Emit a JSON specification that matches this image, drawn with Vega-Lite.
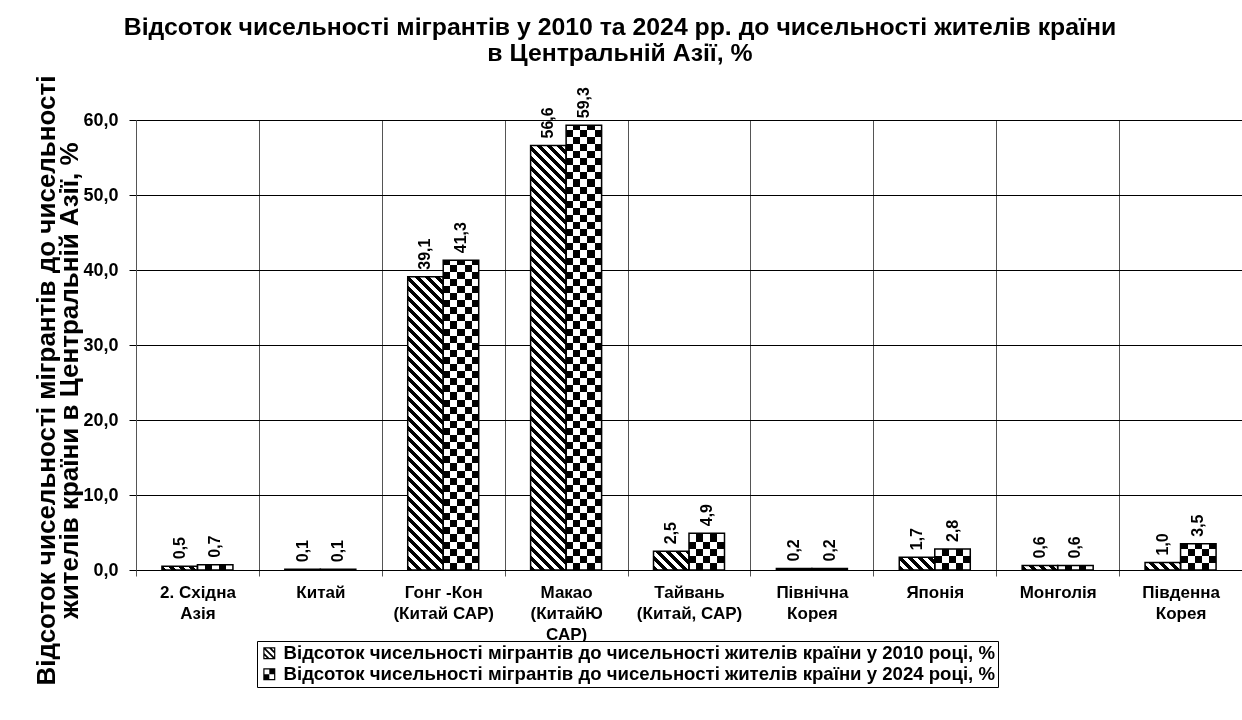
{
"$schema":"https://vega.github.io/schema/vega-lite/v6.json",
"width":1106,"height":450,
"autosize":"none",
"padding":{"left":136,"top":120,"right":0,"bottom":150},
"background":"white",
"config":{"view":{"stroke":null},"font":"Liberation Sans",
"locale":{"number":{"decimal":",","thousands":" ","grouping":[3],"currency":["",""]}}},
"title":{"text":["Відсоток чисельності мігрантів у 2010 та 2024 рр.  до чисельності жителів країни","в Центральній Азії, %"],"font":"Liberation Sans","fontSize":24.8,"fontWeight":"bold","color":"black","anchor":"middle","frame":"group","dx":-69,"dy":-5,"lineHeight":26},
"data":{"values":[
{"cat":"2. Східна|Азія","series":"2010","value":0.5},
{"cat":"2. Східна|Азія","series":"2024","value":0.7},
{"cat":"Китай","series":"2010","value":0.1},
{"cat":"Китай","series":"2024","value":0.1},
{"cat":"Гонг -Кон|(Китай САР)","series":"2010","value":39.1},
{"cat":"Гонг -Кон|(Китай САР)","series":"2024","value":41.3},
{"cat":"Макао|(КитайЮ|САР)","series":"2010","value":56.6},
{"cat":"Макао|(КитайЮ|САР)","series":"2024","value":59.3},
{"cat":"Тайвань|(Китай, САР)","series":"2010","value":2.5},
{"cat":"Тайвань|(Китай, САР)","series":"2024","value":4.9},
{"cat":"Північна|Корея","series":"2010","value":0.2},
{"cat":"Північна|Корея","series":"2024","value":0.2},
{"cat":"Японія","series":"2010","value":1.7},
{"cat":"Японія","series":"2024","value":2.8},
{"cat":"Монголія","series":"2010","value":0.6},
{"cat":"Монголія","series":"2024","value":0.6},
{"cat":"Південна|Корея","series":"2010","value":1.0},
{"cat":"Південна|Корея","series":"2024","value":3.5}
]},
"encoding":{
"x":{"field":"cat","type":"nominal","sort":null,"scale":{"paddingInner":0,"paddingOuter":0},
"axis":{"title":null,"tickBand":"extent","labelAngle":0,"labelExpr":"isString(datum.value) ? split(datum.value, '|') : ''","labelFont":"Liberation Sans","labelFontSize":17,"labelFontWeight":"bold","labelColor":"black","labelLineHeight":21,"labelBaseline":"top","labelPadding":8,"labelLimit":300,"tickSize":6,"tickColor":"#555","domainColor":"#000","grid":true,"gridColor":"#555","gridWidth":1}},
"xOffset":{"field":"series","type":"nominal","scale":{"paddingInner":0,"paddingOuter":0.73085}}
},
"layer":[
{"mark":{"type":"bar","fill":"#010101"},
"encoding":{
"y":{"field":"value","type":"quantitative","scale":{"domain":[0,60],"nice":false},
"axis":{"title":["Відсоток чисельності мігрантів до чисельності","жителів країни в Центральній Азії, %"],"titleFont":"Liberation Sans","titleFontSize":26,"titleFontWeight":"bold","titleColor":"black","titleAngle":270,"titleAlign":"center","titleBaseline":"alphabetic","titleX":-82,"titleY":260,"titleLineHeight":23,
"values":[0,10,20,30,40,50,60],"format":".1f","labelFont":"Liberation Sans","labelFontSize":18,"labelFontWeight":"bold","labelColor":"black","labelPadding":11,"tickSize":7,"tickColor":"#000","domainColor":"#555","gridColor":"#000","gridWidth":1}}}},
{"mark":{"type":"bar","blend":"color-dodge","strokeWidth":0},
"encoding":{"y":{"datum":60,"type":"quantitative"},"y2":{"datum":0},
"fill":{"condition":{"test":"datum.series == '2010'","value":
{"gradient":"linear","x1":0,"y1":1,"x2":0.0871124,"y2":-0.104242,"stops":[
{"offset":0,"color":"#000"},
{"offset":0.01,"color":"#000"},{"offset":0.01,"color":"#fff"},
{"offset":0.02,"color":"#fff"},{"offset":0.02,"color":"#000"},
{"offset":0.03,"color":"#000"},{"offset":0.03,"color":"#fff"},
{"offset":0.04,"color":"#fff"},{"offset":0.04,"color":"#000"},
{"offset":0.05,"color":"#000"},{"offset":0.05,"color":"#fff"},
{"offset":0.06,"color":"#fff"},{"offset":0.06,"color":"#000"},
{"offset":0.07,"color":"#000"},{"offset":0.07,"color":"#fff"},
{"offset":0.08,"color":"#fff"},{"offset":0.08,"color":"#000"},
{"offset":0.09,"color":"#000"},{"offset":0.09,"color":"#fff"},
{"offset":0.1,"color":"#fff"},{"offset":0.1,"color":"#000"},
{"offset":0.11,"color":"#000"},{"offset":0.11,"color":"#fff"},
{"offset":0.12,"color":"#fff"},{"offset":0.12,"color":"#000"},
{"offset":0.13,"color":"#000"},{"offset":0.13,"color":"#fff"},
{"offset":0.14,"color":"#fff"},{"offset":0.14,"color":"#000"},
{"offset":0.15,"color":"#000"},{"offset":0.15,"color":"#fff"},
{"offset":0.16,"color":"#fff"},{"offset":0.16,"color":"#000"},
{"offset":0.17,"color":"#000"},{"offset":0.17,"color":"#fff"},
{"offset":0.18,"color":"#fff"},{"offset":0.18,"color":"#000"},
{"offset":0.19,"color":"#000"},{"offset":0.19,"color":"#fff"},
{"offset":0.2,"color":"#fff"},{"offset":0.2,"color":"#000"},
{"offset":0.21,"color":"#000"},{"offset":0.21,"color":"#fff"},
{"offset":0.22,"color":"#fff"},{"offset":0.22,"color":"#000"},
{"offset":0.23,"color":"#000"},{"offset":0.23,"color":"#fff"},
{"offset":0.24,"color":"#fff"},{"offset":0.24,"color":"#000"},
{"offset":0.25,"color":"#000"},{"offset":0.25,"color":"#fff"},
{"offset":0.26,"color":"#fff"},{"offset":0.26,"color":"#000"},
{"offset":0.27,"color":"#000"},{"offset":0.27,"color":"#fff"},
{"offset":0.28,"color":"#fff"},{"offset":0.28,"color":"#000"},
{"offset":0.29,"color":"#000"},{"offset":0.29,"color":"#fff"},
{"offset":0.3,"color":"#fff"},{"offset":0.3,"color":"#000"},
{"offset":0.31,"color":"#000"},{"offset":0.31,"color":"#fff"},
{"offset":0.32,"color":"#fff"},{"offset":0.32,"color":"#000"},
{"offset":0.33,"color":"#000"},{"offset":0.33,"color":"#fff"},
{"offset":0.34,"color":"#fff"},{"offset":0.34,"color":"#000"},
{"offset":0.35,"color":"#000"},{"offset":0.35,"color":"#fff"},
{"offset":0.36,"color":"#fff"},{"offset":0.36,"color":"#000"},
{"offset":0.37,"color":"#000"},{"offset":0.37,"color":"#fff"},
{"offset":0.38,"color":"#fff"},{"offset":0.38,"color":"#000"},
{"offset":0.39,"color":"#000"},{"offset":0.39,"color":"#fff"},
{"offset":0.4,"color":"#fff"},{"offset":0.4,"color":"#000"},
{"offset":0.41,"color":"#000"},{"offset":0.41,"color":"#fff"},
{"offset":0.42,"color":"#fff"},{"offset":0.42,"color":"#000"},
{"offset":0.43,"color":"#000"},{"offset":0.43,"color":"#fff"},
{"offset":0.44,"color":"#fff"},{"offset":0.44,"color":"#000"},
{"offset":0.45,"color":"#000"},{"offset":0.45,"color":"#fff"},
{"offset":0.46,"color":"#fff"},{"offset":0.46,"color":"#000"},
{"offset":0.47,"color":"#000"},{"offset":0.47,"color":"#fff"},
{"offset":0.48,"color":"#fff"},{"offset":0.48,"color":"#000"},
{"offset":0.49,"color":"#000"},{"offset":0.49,"color":"#fff"},
{"offset":0.5,"color":"#fff"},{"offset":0.5,"color":"#000"},
{"offset":0.51,"color":"#000"},{"offset":0.51,"color":"#fff"},
{"offset":0.52,"color":"#fff"},{"offset":0.52,"color":"#000"},
{"offset":0.53,"color":"#000"},{"offset":0.53,"color":"#fff"},
{"offset":0.54,"color":"#fff"},{"offset":0.54,"color":"#000"},
{"offset":0.55,"color":"#000"},{"offset":0.55,"color":"#fff"},
{"offset":0.56,"color":"#fff"},{"offset":0.56,"color":"#000"},
{"offset":0.57,"color":"#000"},{"offset":0.57,"color":"#fff"},
{"offset":0.58,"color":"#fff"},{"offset":0.58,"color":"#000"},
{"offset":0.59,"color":"#000"},{"offset":0.59,"color":"#fff"},
{"offset":0.6,"color":"#fff"},{"offset":0.6,"color":"#000"},
{"offset":0.61,"color":"#000"},{"offset":0.61,"color":"#fff"},
{"offset":0.62,"color":"#fff"},{"offset":0.62,"color":"#000"},
{"offset":0.63,"color":"#000"},{"offset":0.63,"color":"#fff"},
{"offset":0.64,"color":"#fff"},{"offset":0.64,"color":"#000"},
{"offset":0.65,"color":"#000"},{"offset":0.65,"color":"#fff"},
{"offset":0.66,"color":"#fff"},{"offset":0.66,"color":"#000"},
{"offset":0.67,"color":"#000"},{"offset":0.67,"color":"#fff"},
{"offset":0.68,"color":"#fff"},{"offset":0.68,"color":"#000"},
{"offset":0.69,"color":"#000"},{"offset":0.69,"color":"#fff"},
{"offset":0.7,"color":"#fff"},{"offset":0.7,"color":"#000"},
{"offset":0.71,"color":"#000"},{"offset":0.71,"color":"#fff"},
{"offset":0.72,"color":"#fff"},{"offset":0.72,"color":"#000"},
{"offset":0.73,"color":"#000"},{"offset":0.73,"color":"#fff"},
{"offset":0.74,"color":"#fff"},{"offset":0.74,"color":"#000"},
{"offset":0.75,"color":"#000"},{"offset":0.75,"color":"#fff"},
{"offset":0.76,"color":"#fff"},{"offset":0.76,"color":"#000"},
{"offset":0.77,"color":"#000"},{"offset":0.77,"color":"#fff"},
{"offset":0.78,"color":"#fff"},{"offset":0.78,"color":"#000"},
{"offset":0.79,"color":"#000"},{"offset":0.79,"color":"#fff"},
{"offset":0.8,"color":"#fff"},{"offset":0.8,"color":"#000"},
{"offset":0.81,"color":"#000"},{"offset":0.81,"color":"#fff"},
{"offset":0.82,"color":"#fff"},{"offset":0.82,"color":"#000"},
{"offset":0.83,"color":"#000"},{"offset":0.83,"color":"#fff"},
{"offset":0.84,"color":"#fff"},{"offset":0.84,"color":"#000"},
{"offset":0.85,"color":"#000"},{"offset":0.85,"color":"#fff"},
{"offset":0.86,"color":"#fff"},{"offset":0.86,"color":"#000"},
{"offset":0.87,"color":"#000"},{"offset":0.87,"color":"#fff"},
{"offset":0.88,"color":"#fff"},{"offset":0.88,"color":"#000"},
{"offset":0.89,"color":"#000"},{"offset":0.89,"color":"#fff"},
{"offset":0.9,"color":"#fff"},{"offset":0.9,"color":"#000"},
{"offset":0.91,"color":"#000"},{"offset":0.91,"color":"#fff"},
{"offset":0.92,"color":"#fff"},{"offset":0.92,"color":"#000"},
{"offset":0.93,"color":"#000"},{"offset":0.93,"color":"#fff"},
{"offset":0.94,"color":"#fff"},{"offset":0.94,"color":"#000"},
{"offset":0.95,"color":"#000"},{"offset":0.95,"color":"#fff"},
{"offset":0.96,"color":"#fff"},{"offset":0.96,"color":"#000"},
{"offset":0.97,"color":"#000"},{"offset":0.97,"color":"#fff"},
{"offset":0.98,"color":"#fff"},{"offset":0.98,"color":"#000"},
{"offset":0.99,"color":"#000"},{"offset":0.99,"color":"#fff"},
{"offset":1,"color":"#fff"}]}},
"value":{"gradient":"linear","x1":0,"y1":1,"x2":0,"y2":-0.051852,"stops":[
{"offset":0,"color":"#000"},
{"offset":0.015,"color":"#000"},{"offset":0.015,"color":"#fff"},
{"offset":0.03,"color":"#fff"},{"offset":0.03,"color":"#000"},
{"offset":0.045,"color":"#000"},{"offset":0.045,"color":"#fff"},
{"offset":0.06,"color":"#fff"},{"offset":0.06,"color":"#000"},
{"offset":0.075,"color":"#000"},{"offset":0.075,"color":"#fff"},
{"offset":0.09,"color":"#fff"},{"offset":0.09,"color":"#000"},
{"offset":0.105,"color":"#000"},{"offset":0.105,"color":"#fff"},
{"offset":0.12,"color":"#fff"},{"offset":0.12,"color":"#000"},
{"offset":0.135,"color":"#000"},{"offset":0.135,"color":"#fff"},
{"offset":0.15,"color":"#fff"},{"offset":0.15,"color":"#000"},
{"offset":0.165,"color":"#000"},{"offset":0.165,"color":"#fff"},
{"offset":0.18,"color":"#fff"},{"offset":0.18,"color":"#000"},
{"offset":0.195,"color":"#000"},{"offset":0.195,"color":"#fff"},
{"offset":0.21,"color":"#fff"},{"offset":0.21,"color":"#000"},
{"offset":0.225,"color":"#000"},{"offset":0.225,"color":"#fff"},
{"offset":0.24,"color":"#fff"},{"offset":0.24,"color":"#000"},
{"offset":0.255,"color":"#000"},{"offset":0.255,"color":"#fff"},
{"offset":0.27,"color":"#fff"},{"offset":0.27,"color":"#000"},
{"offset":0.285,"color":"#000"},{"offset":0.285,"color":"#fff"},
{"offset":0.3,"color":"#fff"},{"offset":0.3,"color":"#000"},
{"offset":0.315,"color":"#000"},{"offset":0.315,"color":"#fff"},
{"offset":0.33,"color":"#fff"},{"offset":0.33,"color":"#000"},
{"offset":0.345,"color":"#000"},{"offset":0.345,"color":"#fff"},
{"offset":0.36,"color":"#fff"},{"offset":0.36,"color":"#000"},
{"offset":0.375,"color":"#000"},{"offset":0.375,"color":"#fff"},
{"offset":0.39,"color":"#fff"},{"offset":0.39,"color":"#000"},
{"offset":0.405,"color":"#000"},{"offset":0.405,"color":"#fff"},
{"offset":0.42,"color":"#fff"},{"offset":0.42,"color":"#000"},
{"offset":0.435,"color":"#000"},{"offset":0.435,"color":"#fff"},
{"offset":0.45,"color":"#fff"},{"offset":0.45,"color":"#000"},
{"offset":0.465,"color":"#000"},{"offset":0.465,"color":"#fff"},
{"offset":0.48,"color":"#fff"},{"offset":0.48,"color":"#000"},
{"offset":0.495,"color":"#000"},{"offset":0.495,"color":"#fff"},
{"offset":0.51,"color":"#fff"},{"offset":0.51,"color":"#000"},
{"offset":0.525,"color":"#000"},{"offset":0.525,"color":"#fff"},
{"offset":0.54,"color":"#fff"},{"offset":0.54,"color":"#000"},
{"offset":0.555,"color":"#000"},{"offset":0.555,"color":"#fff"},
{"offset":0.57,"color":"#fff"},{"offset":0.57,"color":"#000"},
{"offset":0.585,"color":"#000"},{"offset":0.585,"color":"#fff"},
{"offset":0.6,"color":"#fff"},{"offset":0.6,"color":"#000"},
{"offset":0.615,"color":"#000"},{"offset":0.615,"color":"#fff"},
{"offset":0.63,"color":"#fff"},{"offset":0.63,"color":"#000"},
{"offset":0.645,"color":"#000"},{"offset":0.645,"color":"#fff"},
{"offset":0.66,"color":"#fff"},{"offset":0.66,"color":"#000"},
{"offset":0.675,"color":"#000"},{"offset":0.675,"color":"#fff"},
{"offset":0.69,"color":"#fff"},{"offset":0.69,"color":"#000"},
{"offset":0.705,"color":"#000"},{"offset":0.705,"color":"#fff"},
{"offset":0.72,"color":"#fff"},{"offset":0.72,"color":"#000"},
{"offset":0.735,"color":"#000"},{"offset":0.735,"color":"#fff"},
{"offset":0.75,"color":"#fff"},{"offset":0.75,"color":"#000"},
{"offset":0.765,"color":"#000"},{"offset":0.765,"color":"#fff"},
{"offset":0.78,"color":"#fff"},{"offset":0.78,"color":"#000"},
{"offset":0.795,"color":"#000"},{"offset":0.795,"color":"#fff"},
{"offset":0.81,"color":"#fff"},{"offset":0.81,"color":"#000"},
{"offset":0.825,"color":"#000"},{"offset":0.825,"color":"#fff"},
{"offset":0.84,"color":"#fff"},{"offset":0.84,"color":"#000"},
{"offset":0.855,"color":"#000"},{"offset":0.855,"color":"#fff"},
{"offset":0.87,"color":"#fff"},{"offset":0.87,"color":"#000"},
{"offset":0.885,"color":"#000"},{"offset":0.885,"color":"#fff"},
{"offset":0.9,"color":"#fff"},{"offset":0.9,"color":"#000"},
{"offset":0.915,"color":"#000"},{"offset":0.915,"color":"#fff"},
{"offset":0.93,"color":"#fff"},{"offset":0.93,"color":"#000"},
{"offset":0.945,"color":"#000"},{"offset":0.945,"color":"#fff"},
{"offset":0.96,"color":"#fff"},{"offset":0.96,"color":"#000"},
{"offset":0.975,"color":"#000"},{"offset":0.975,"color":"#fff"},
{"offset":0.99,"color":"#fff"},{"offset":0.99,"color":"#000"},
{"offset":1,"color":"#000"}]}}}},
{"transform":[{"filter":"datum.series == '2024'"}],
"mark":{"type":"bar","blend":"difference","strokeWidth":0,
"fill":{"gradient":"linear","x1":0,"y1":0,"x2":1,"y2":0,"stops":[{"offset":0,"color":"#fff"},{"offset":0.2,"color":"#fff"},{"offset":0.2,"color":"#000"},{"offset":0.4,"color":"#000"},{"offset":0.4,"color":"#fff"},{"offset":0.6,"color":"#fff"},{"offset":0.6,"color":"#000"},{"offset":0.8,"color":"#000"},{"offset":0.8,"color":"#fff"},{"offset":1,"color":"#fff"}]}},
"encoding":{"y":{"field":"value","type":"quantitative"}}},
{"mark":{"type":"bar","fill":"transparent","stroke":"black","strokeWidth":1.5},
"encoding":{"y":{"field":"value","type":"quantitative"}}},
{"mark":{"type":"point","filled":true,"fill":"black","opacity":0,"strokeWidth":0},
"encoding":{"y":{"field":"value","type":"quantitative"},
"shape":{"field":"series","type":"nominal","scale":{"range":[
"M-1,-1H1V1H-1Z M-0.8,-0.8V0.8H0.8V-0.8Z M-1,-1L-0.8,-1L1,0.8L1,1L0.8,1L-1,-0.8Z M-0.2,-1L0.2,-1L1,-0.2L1,0.2Z M-1,-0.2L0.2,1L-0.2,1L-1,0.2Z",
"M-1,-1H1V1H-1Z M-0.8,-0.8V0.8H0.8V-0.8Z M0,-1H1V0H0Z M-1,0H0V1H-1Z"]},
"legend":{"title":null,"orient":"none","legendX":121,"legendY":521,"direction":"vertical","strokeColor":"black","fillColor":"white","padding":3,"symbolSize":144,"symbolOpacity":1,"symbolFillColor":"black","symbolStrokeWidth":0,"labelFont":"Liberation Sans","labelFontSize":18.6,"labelFontWeight":"bold","labelColor":"black","labelLimit":1000,"rowPadding":2,"labelOffset":5,
"labelExpr":"'Відсоток чисельності мігрантів до чисельності жителів країни у ' + datum.label + ' році, %'"}}}},
{"mark":{"type":"text","angle":270,"align":"left","baseline":"middle","dx":7,"font":"Liberation Sans","fontSize":16,"fontWeight":"bold","color":"black"},
"encoding":{"y":{"field":"value","type":"quantitative"},"text":{"field":"value","type":"quantitative","format":".1f"}}}
]
}
